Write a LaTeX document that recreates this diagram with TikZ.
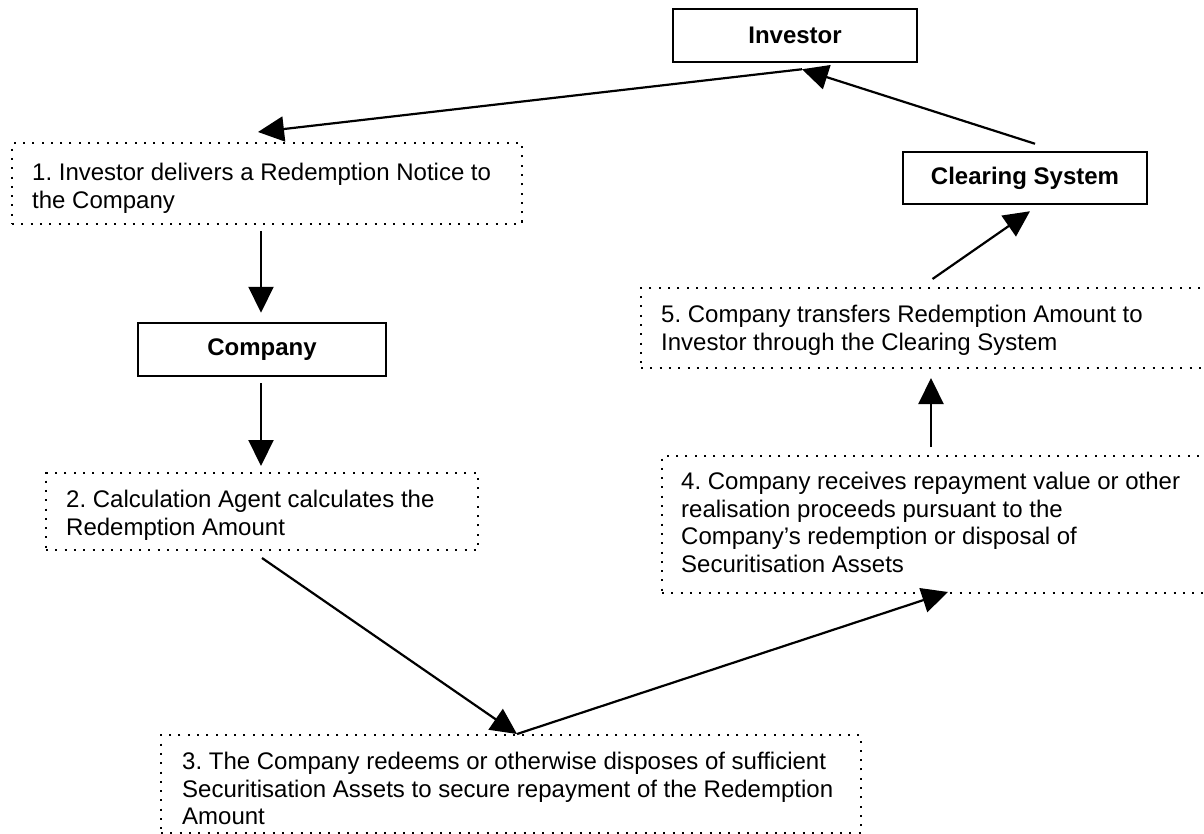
\documentclass[tikz,border=0pt]{standalone}
\usepackage{fontspec}
\setmainfont{Liberation Sans}
\usetikzlibrary{arrows.meta}
\frenchspacing
\begin{document}
\begin{tikzpicture}[x=1pt,y=-1pt,
  every node/.style={font=\fontsize{24}{27.6}\selectfont},
  solidbox/.style={draw, line width=2.5pt, inner sep=0pt, font=\fontsize{24}{27.6}\selectfont\bfseries},
  dotbox/.style={draw, line width=2pt, dash pattern=on 2pt off 7.3pt, inner sep=0pt},
  txt/.style={align=left, inner sep=0pt, anchor=north west,
    execute at begin node={\frenchspacing\hyphenpenalty=10000}},
  arr/.style={line width=2.2pt, -{Triangle[length=26pt,width=25pt]}}]
\useasboundingbox (0,0) rectangle (1204,834);
% solid boxes
\node[solidbox, minimum width=244pt, minimum height=53pt] (inv) at (795,35.5) {Investor};
\node[solidbox, minimum width=244pt, minimum height=52pt] (clr) at (1025,178) {Clearing System};
\node[solidbox, minimum width=248pt, minimum height=53pt] (comp) at (262,349.5) {Company};
% dotted boxes
\node[dotbox, minimum width=510pt, minimum height=81pt] (b1) at (267,183.5) {};
\node[dotbox, minimum width=432pt, minimum height=77pt] (b2) at (262,511.5) {};
\node[dotbox, minimum width=700pt, minimum height=98pt] (b3) at (511,784) {};
\node[dotbox, minimum width=558pt, minimum height=137pt] (b4) at (941,524.5) {};
\node[dotbox, minimum width=579pt, minimum height=80pt] (b5) at (930.5,328) {};
% texts
\node[txt] (t1) at ([xshift=21pt,yshift=-21pt]b1.north west)
  {1. Investor delivers a Redemption Notice to\\the Company};
\node[txt] (t2) at ([xshift=21pt,yshift=-18pt]b2.north west)
  {2. Calculation Agent calculates the\\Redemption Amount};
\node[txt] (t3) at ([xshift=22pt,yshift=-18pt]b3.north west)
  {3. The Company redeems or otherwise disposes of sufficient\\Securitisation Assets to secure repayment of the Redemption\\Amount};
\node[txt] (t4) at ([xshift=20pt,yshift=-17pt]b4.north west)
  {4. Company receives repayment value or other\\realisation proceeds pursuant to the\\Company’s redemption or disposal of\\Securitisation Assets};
\node[txt] (t5) at ([xshift=21pt,yshift=-18pt]b5.north west)
  {5. Company transfers Redemption Amount to\\Investor through the Clearing System};
% connector end points
\coordinate (p1s) at ([xshift=7pt,yshift=-6pt]inv.south);
\coordinate (p1e) at ([xshift=-9pt,yshift=10pt]b1.north);
\coordinate (p2s) at ([xshift=10pt,yshift=7pt]clr.north);
\coordinate (p3s) at ([xshift=-6pt,yshift=-6pt]b1.south);
\coordinate (p3e) at ([xshift=-1pt,yshift=9pt]comp.north);
\coordinate (p4s) at ([xshift=-1pt,yshift=-6pt]comp.south);
\coordinate (p4e) at ([xshift=-1pt,yshift=6pt]b2.north);
\coordinate (p5s) at ([yshift=-7pt]b2.south);
\coordinate (p5e) at ([xshift=6pt]b3.north);
\coordinate (p6e) at ([xshift=7pt,yshift=2pt]b4.south);
\coordinate (p7s) at ([xshift=-10pt,yshift=8pt]b4.north);
\coordinate (p7e) at ([xshift=0.5pt,yshift=-9pt]b5.south);
\coordinate (p8s) at ([xshift=2pt,yshift=8pt]b5.north);
\coordinate (p8e) at ([xshift=5pt,yshift=-6pt]clr.south);
% connectors
\draw[arr] (p1s) -- (p1e);
\draw[arr] (p2s) -- (p1s);
\draw[arr] (p3s) -- (p3e);
\draw[arr] (p4s) -- (p4e);
\draw[arr] (p5s) -- (p5e);
\draw[arr] (p5e) -- (p6e);
\draw[arr] (p7s) -- (p7e);
\draw[arr] (p8s) -- (p8e);
\end{tikzpicture}
\end{document}
